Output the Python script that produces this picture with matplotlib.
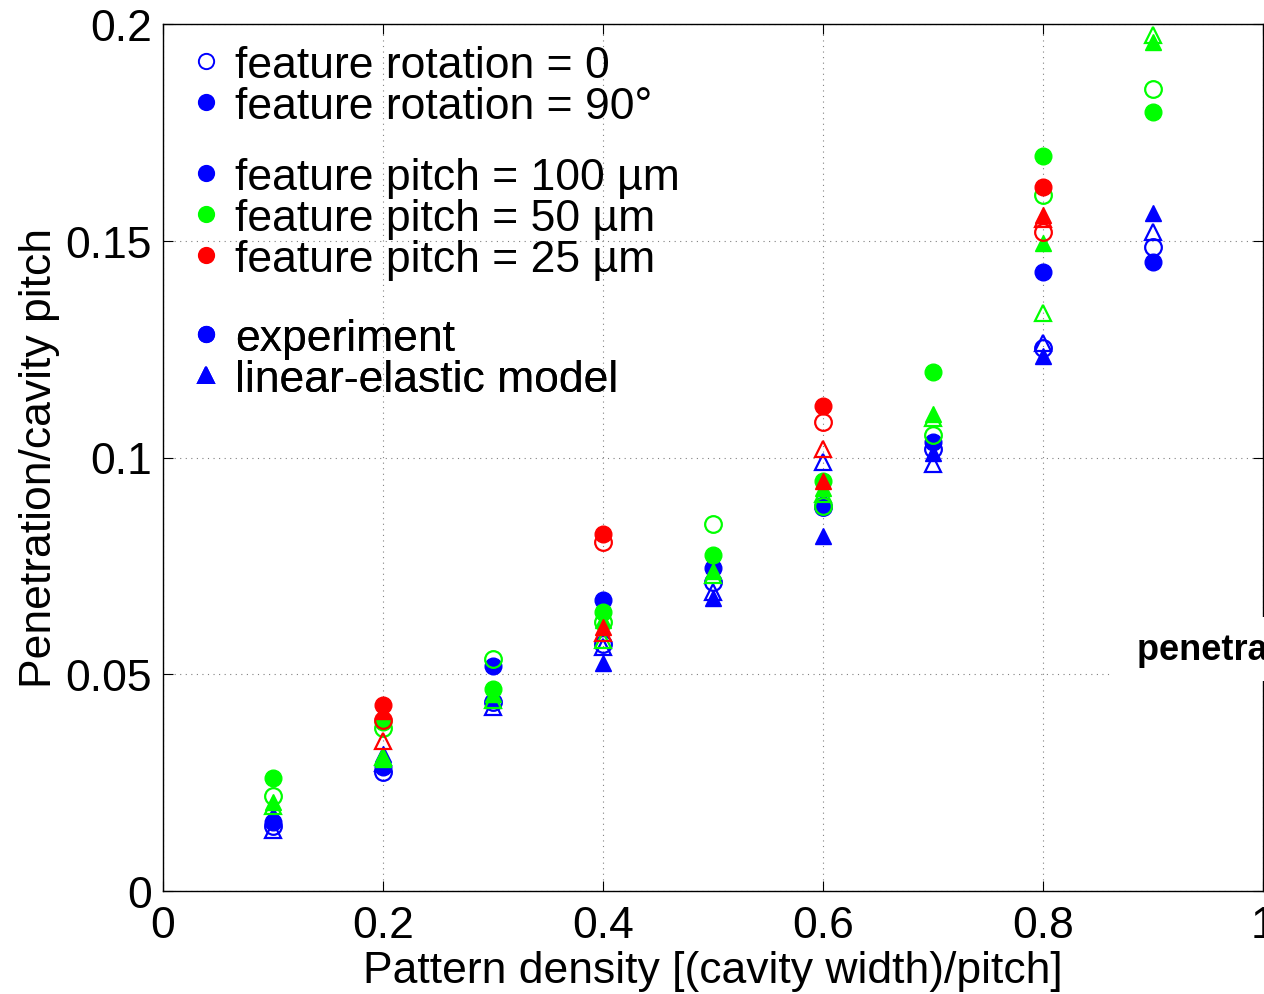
import numpy as np
import matplotlib
matplotlib.use("Agg")
import matplotlib.pyplot as plt
from matplotlib.lines import Line2D

plt.rcParams['font.family'] = ['Liberation Sans', 'DejaVu Sans']

# pattern densities
x_all = [0.1, 0.2, 0.3, 0.4, 0.5, 0.6, 0.7, 0.8, 0.9]
x_red = [0.2, 0.4, 0.6, 0.8]

# feature pitch = 100 um (blue)
blue_exp_0 = [0.0150, 0.0275, 0.0435, 0.0570, 0.0712, 0.0885, 0.1020, 0.1253, 0.1486]
blue_exp_90 = [0.0160, 0.0285, 0.0518, 0.0672, 0.0745, 0.0890, 0.1035, 0.1429, 0.1450]
blue_mod_0 = [0.0140, 0.0295, 0.0425, 0.0562, 0.0690, 0.0990, 0.0984, 0.1265, 0.1520]
blue_mod_90 = [0.0175, 0.0315, 0.0440, 0.0525, 0.0675, 0.0818, 0.1010, 0.1233, 0.1564]

# feature pitch = 50 um (green)
green_exp_0 = [0.0220, 0.0375, 0.0535, 0.0620, 0.0846, 0.0887, 0.1053, 0.1606, 0.1850]
green_exp_90 = [0.0260, 0.0390, 0.0465, 0.0643, 0.0775, 0.0945, 0.1198, 0.1696, 0.1797]
green_mod_0 = [0.0195, 0.0310, 0.0440, 0.0580, 0.0730, 0.0915, 0.1090, 0.1334, 0.1975]
green_mod_90 = [0.0205, 0.0305, 0.0455, 0.0625, 0.0738, 0.0930, 0.1100, 0.1495, 0.1959]

# feature pitch = 25 um (red)
red_exp_0 = [0.0395, 0.0805, 0.1082, 0.1520]
red_exp_90 = [0.0430, 0.0823, 0.1118, 0.1624]
red_mod_0 = [0.0345, 0.0595, 0.1020, 0.1550]
red_mod_90 = [0.0415, 0.0608, 0.0945, 0.1560]

xticks = [0, 0.2, 0.4, 0.6, 0.8, 1]
xticklabels = ['0', '0.2', '0.4', '0.6', '0.8', '1']
yticks = [0, 0.05, 0.1, 0.15, 0.2]
yticklabels = ['0', '0.05', '0.1', '0.15', '0.2']

BLUE = (0, 0, 1)
GREEN = (0, 1, 0)
RED = (1, 0, 0)
MS = 12
FS = 32

fig = plt.figure(figsize=(12.64, 9.95), dpi=100)
ax = fig.add_axes([163 / 1264, 103 / 995, 1100 / 1264, 867 / 995])


def dots(x, y, color, marker, filled):
    if filled:
        ax.plot(x, y, linestyle='none', marker=marker, markersize=MS,
                markerfacecolor=color, markeredgecolor=color, markeredgewidth=1.0)
    else:
        ax.plot(x, y, linestyle='none', marker=marker, markersize=MS,
                markerfacecolor='none', markeredgecolor=color, markeredgewidth=1.6)


for xs, c, e0, e90, m0, m90 in [
    (x_all, BLUE, blue_exp_0, blue_exp_90, blue_mod_0, blue_mod_90),
    (x_all, GREEN, green_exp_0, green_exp_90, green_mod_0, green_mod_90),
    (x_red, RED, red_exp_0, red_exp_90, red_mod_0, red_mod_90),
]:
    dots(xs, e0, c, 'o', False)
    dots(xs, e90, c, 'o', True)
    dots(xs, m0, c, '^', False)
    dots(xs, m90, c, '^', True)

ax.set_xlim(0, 1)
ax.set_ylim(0, 0.2)
ax.set_xticks(xticks)
ax.set_xticklabels(xticklabels)
ax.set_yticks(yticks)
ax.set_yticklabels(yticklabels)
ax.tick_params(direction='in', length=7, width=0.8, top=True, right=True,
               labelsize=FS)
ax.tick_params(axis='x', pad=10)
ax.tick_params(axis='y', pad=8)
ax.grid(True, color='#808080', linestyle=(0, (1, 4)), linewidth=0.8)
for s in ax.spines.values():
    s.set_linewidth(1.0)

ax.set_xlabel('Pattern density [(cavity width)/pitch]', fontsize=FS, labelpad=3)
ax.set_ylabel('Penetration/cavity pitch', fontsize=FS, labelpad=4)

# legend in three groups
def leg_group(entries, y_top):
    handles = []
    labels = []
    for color, marker, filled, text in entries:
        h = Line2D([], [], linestyle='none', marker=marker, markersize=11,
                   markerfacecolor=color if filled else 'none',
                   markeredgecolor=color, markeredgewidth=1.4)
        handles.append(h)
        labels.append(text)
    lg = ax.legend(handles, labels, loc='upper left', frameon=False,
                   bbox_to_anchor=(0.027, y_top), fontsize=FS,
                   handlelength=0.6, handletextpad=0.35, labelspacing=0.0,
                   borderaxespad=0, borderpad=0)
    ax.add_artist(lg)


leg_group([(BLUE, 'o', False, 'feature rotation = 0'),
           (BLUE, 'o', True, 'feature rotation = 90°')], 1 - 21 / 867)
leg_group([(BLUE, 'o', True, 'feature pitch = 100 µm'),
           (GREEN, 'o', True, 'feature pitch = 50 µm'),
           (RED, 'o', True, 'feature pitch = 25 µm')], 1 - 133 / 867)
leg_group([(BLUE, 'o', True, 'experiment'),
           (BLUE, '^', True, 'linear-elastic model')], 1 - 294 / 867)

ax.text(0.876, 0.0558, ' penetration', fontsize=26, fontweight='bold',
        va='center', ha='left', clip_on=False,
        bbox=dict(boxstyle='square,pad=0.4', facecolor='white', edgecolor='none'))

fig.savefig('out.png', dpi=100)
